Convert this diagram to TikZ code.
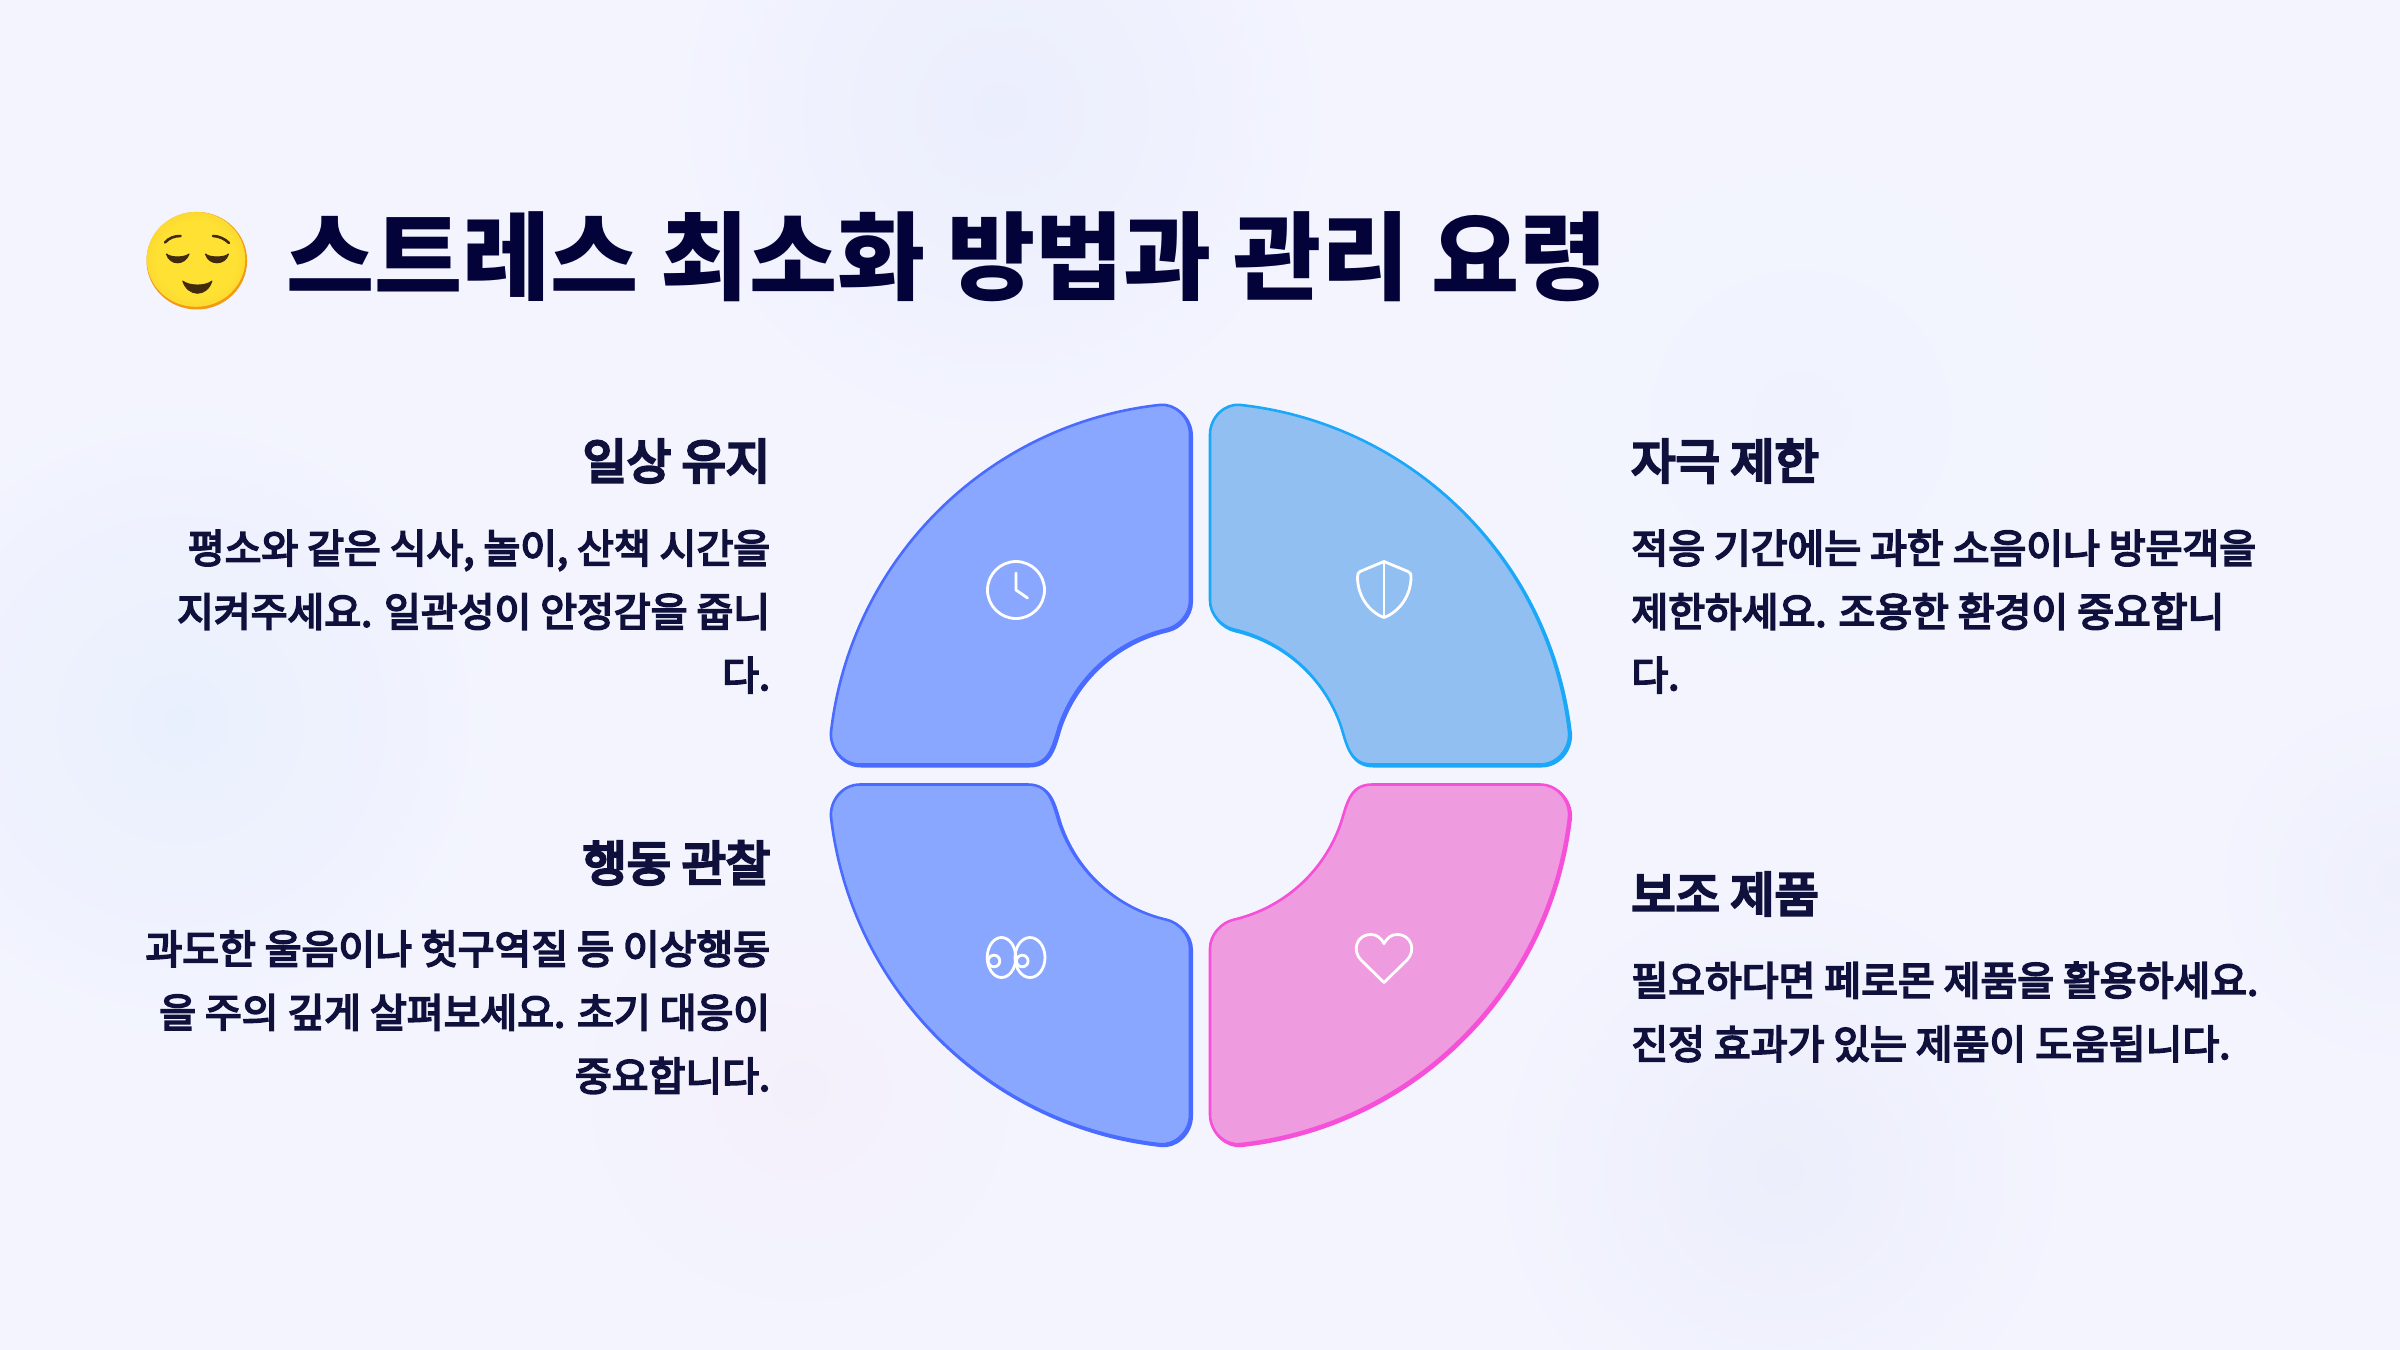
\documentclass[tikz,border=0pt]{standalone}
\usepackage{fontspec}
\setmainfont{Noto Sans CJK KR}
\newfontfamily\bodyface[FakeBold=4.5]{Noto Sans CJK KR}
\newfontfamily\headface[FakeBold=6]{Noto Sans CJK KR}
\definecolor{bgc}{HTML}{F3F4FE}
\definecolor{titlec}{HTML}{03033A}
\definecolor{headc}{HTML}{10103C}
\definecolor{bodyc}{HTML}{10103C}
\definecolor{bluefill}{HTML}{8AA7FF}
\definecolor{bluestroke}{HTML}{4A6BFF}
\definecolor{skyfill}{HTML}{91BFF1}
\definecolor{skystroke}{HTML}{1CA8F8}
\definecolor{pinkfill}{HTML}{EE9BE0}
\definecolor{pinkstroke}{HTML}{F64FD8}
\definecolor{faceink}{HTML}{422B0D}
\definecolor{blobA}{HTML}{EBEEFD}
\definecolor{blobB}{HTML}{E9F0FD}
\definecolor{blobC}{HTML}{F0F3FE}
\definecolor{blobD}{HTML}{ECEEFB}
\definecolor{blobE}{HTML}{F4F0FB}
\definecolor{blobF}{HTML}{EEF0FC}
\definecolor{faceA}{HTML}{FEE133}
\definecolor{faceB}{HTML}{FCCF2C}
\definecolor{faceC}{HTML}{F6B01E}
\definecolor{faceD}{HTML}{F29A12}
\pgfdeclareradialshading{emojiface}{\pgfpointorigin}{%
  color(0bp)=(faceA);
  color(20bp)=(faceA);
  color(32bp)=(faceB);
  color(36bp)=(faceC);
  color(50bp)=(faceC)}
\newcommand{\quadshape}{(10,340) -- (10,174)
  .. controls (10,160) and (21.5,148) .. (33.5,145.2)
  arc[start angle=77,end angle=19,radius=149]
  .. controls (147,29) and (150,10) .. (172,10)
  -- (340,10)
  .. controls (358,10) and (370.3,26.6) .. (369,42.6)
  arc[start angle=6.6,end angle=83.7,radius=372]
  .. controls (25.7,371.4) and (10,358) .. (10,340) -- cycle}
\newcommand{\petal}[4]{%
  \begin{scope}[shift={(1200,774.5)},xscale=#1,yscale=#2]
    \draw[#4,line width=1.6,shift={(1.4*#1,1.4*#2)},line join=round] \quadshape;
    \fill[#3] \quadshape;
    \draw[#4,line width=1.3,line join=round] \quadshape;
  \end{scope}}
\tikzset{
  titletext/.style={font=\fontsize{47.9}{56}\selectfont\bfseries,text=titlec,inner sep=0pt},
  headtext/.style={font=\headface\fontsize{24}{28}\selectfont,text=headc,inner sep=0pt},
  bodytextl/.style={font=\bodyface\fontsize{20}{31.75}\selectfont,text=bodyc,inner sep=0pt,align=right},
  bodytextr/.style={font=\bodyface\fontsize{20}{31.75}\selectfont,text=bodyc,inner sep=0pt,align=left},
  iconline/.style={draw=white,line width=1.4,line cap=round,line join=round}
}
\begin{document}
\begin{tikzpicture}[x=0.5pt,y=-0.5pt]
\useasboundingbox (0,0) rectangle (2400,1350);
\fill[bgc] (0,0) rectangle (2400,1350);
% soft background blobs
\shade[inner color=blobA,outer color=bgc] (1000,110) circle (340);
\shade[inner color=blobB,outer color=bgc] (180,720) circle (330);
\shade[inner color=blobC,outer color=bgc] (1800,420) circle (300);
\shade[inner color=blobD,outer color=bgc] (1780,1170) circle (300);
\shade[inner color=blobE,outer color=bgc] (800,1090) circle (240);
\shade[inner color=blobF,outer color=bgc] (2400,880) circle (200);
% petals
\petal{-1}{-1}{bluefill}{bluestroke}
\petal{1}{-1}{skyfill}{skystroke}
\petal{-1}{1}{bluefill}{bluestroke}
\petal{1}{1}{pinkfill}{pinkstroke}
% clock
\draw[iconline] (1016,590) circle (28.5);
\draw[iconline] (1016,573) -- (1016,590) -- (1027.5,598);
% shield
\draw[iconline] (1384,561.5) -- (1408,571.5) .. controls (1411,573) and (1411,574) .. (1411,577)
  .. controls (1411,596) and (1399,612) .. (1384,617.5)
  .. controls (1369,612) and (1357.5,596) .. (1357.5,577)
  .. controls (1357.5,574) and (1358,573) .. (1360,571.5) -- cycle;
\draw[iconline] (1384,561.5) -- (1384,617.5);
% eyes
\draw[iconline] (1001.5,957.5) ellipse (14.3 and 20);
\draw[iconline] (1030,957.5) ellipse (15 and 20);
\draw[iconline] (994,961) circle (5.8);
\draw[iconline] (1022.3,961) circle (5.8);
% heart
\draw[iconline] (1384,982.5) -- (1361,960)
  .. controls (1352,951) and (1356,934.5) .. (1371,934.5)
  .. controls (1377,934.5) and (1381,938) .. (1384,943.5)
  .. controls (1387,938) and (1391,934.5) .. (1397,934.5)
  .. controls (1412,934.5) and (1416,951) .. (1407,960) -- cycle;
% emoji
\fill[faceD] (196.8,260.7) ellipse (50.3 and 48.8);
\shade[shading=emojiface] (196,259.4) ellipse (49.3 and 47.4);
\fill[faceink,draw=faceink,line width=0.6,line join=round] (166.5,254) .. controls (170,265.6) and (185,265.6) .. (189,254)
  .. controls (185,258) and (170,258) .. (166.5,254) -- cycle;
\fill[faceink,draw=faceink,line width=0.6,line join=round] (205.5,254) .. controls (209,265.6) and (225,265.6) .. (228.5,254)
  .. controls (225,258) and (209,258) .. (205.5,254) -- cycle;
\fill[faceink,draw=faceink,line width=0.4,line join=round] (182.7,281) .. controls (188,297.4) and (207,297.4) .. (212,281)
  .. controls (205,286.3) and (190,286.3) .. (182.7,281) -- cycle;
\draw[faceink,line width=1.3,line cap=round] (165,242.5) .. controls (169,238) and (174,236) .. (180.5,236);
\draw[faceink,line width=1.3,line cap=round] (213,236) .. controls (219,236) and (225,239) .. (229,243);
% title
\node[titletext,anchor=base west] (title) at (286,292) {스트레스 최소화 방법과 관리 요령};
% left column
\node[headtext,anchor=base east] (h1) at (770.5,479) {일상 유지};
\node[bodytextl,anchor=north east] (b1) at (770.5,529.5) {평소와 같은 식사, 놀이, 산책 시간을\\지켜주세요. 일관성이 안정감을 줍니\\다.};
\node[headtext,anchor=base east] (h3) at (770.5,881) {행동 관찰};
\node[bodytextl,anchor=north east] (b3) at (770.5,930) {과도한 울음이나 헛구역질 등 이상행동\\을 주의 깊게 살펴보세요. 초기 대응이\\중요합니다.};
% right column
\node[headtext,anchor=base west] (h2) at (1631,479) {자극 제한};
\node[bodytextr,anchor=north west] (b2) at (1631,529.5) {적응 기간에는 과한 소음이나 방문객을\\제한하세요. 조용한 환경이 중요합니\\다.};
\node[headtext,anchor=base west] (h4) at (1631,912) {보조 제품};
\node[bodytextr,anchor=north west] (b4) at (1631,961.5) {필요하다면 페로몬 제품을 활용하세요.\\진정 효과가 있는 제품이 도움됩니다.};
\end{tikzpicture}
\end{document}
